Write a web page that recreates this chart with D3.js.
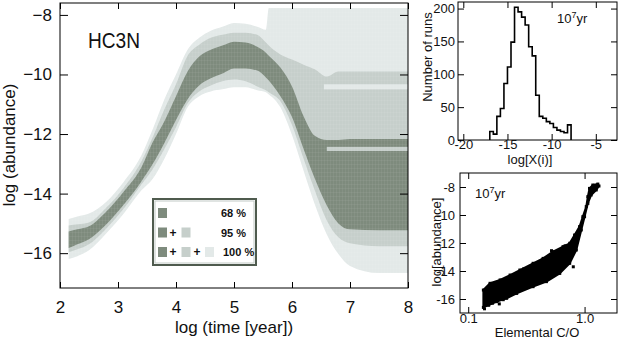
<!DOCTYPE html>
<html>
<head>
<meta charset="utf-8">
<script src="https://cdn.jsdelivr.net/npm/d3@7"></script>
<style>
body { margin: 0; background: #fff; }
svg { display: block; }
text { font-family: 'Liberation Sans', Arial, sans-serif; fill: #111; }
</style>
</head>
<body>
<svg id="fig" width="618" height="339"></svg>
<script>
// values (log time in years, log abundance)
const times = [2.15, 2.3, 2.5, 2.8, 3.1, 3.4, 3.6, 3.8, 4.0, 4.2, 4.4, 4.6, 4.8, 5.0, 5.2, 5.4, 5.55, 5.6, 5.8, 6.0, 6.2, 6.4, 6.6, 6.8, 7.0, 7.5, 8.0]

const hi100 = [-14.85, -14.77, -14.67, -14.27, -13.6, -12.73, -11.83, -10.83, -10.0, -9.17, -8.77, -8.53, -8.4, -8.27, -8.3, -8.4, -8.5, -7.77, -7.77, -7.77, -7.77, -7.77, -7.77, -7.77, -7.77, -7.77, -7.77]
const lo100 = [-16.2, -16.1, -15.9, -15.33, -14.67, -13.9, -13.5, -12.83, -12.0, -11.1, -10.73, -10.57, -10.5, -10.43, -10.43, -10.53, -10.6, -10.67, -11.1, -12.03, -13.23, -14.4, -15.37, -16.03, -16.43, -16.67, -16.67]

const hi95 = [-15.07, -15.03, -14.97, -14.47, -13.8, -12.93, -12.1, -11.17, -10.33, -9.37, -9.0, -8.77, -8.67, -8.6, -8.6, -8.67, -8.93, -9.03, -9.33, -9.5, -9.67, -9.83, -10.07, -9.9, -9.9, -9.9, -9.9]
const lo95 = [-15.97, -15.87, -15.7, -15.17, -14.5, -13.7, -13.17, -12.5, -11.77, -10.97, -10.57, -10.37, -10.23, -10.17, -10.23, -10.4, -10.53, -10.6, -10.9, -11.7, -12.83, -13.93, -14.9, -15.47, -15.67, -15.77, -15.77]

const hi68 = [-15.27, -15.2, -15.1, -14.6, -13.93, -13.13, -12.27, -11.57, -10.73, -9.9, -9.4, -9.17, -9.03, -8.9, -8.93, -9.07, -9.27, -9.37, -9.77, -10.4, -11.4, -12.07, -12.2, -12.2, -12.17, -12.17, -12.17]
const lo68 = [-15.83, -15.7, -15.53, -15.03, -14.37, -13.6, -13.0, -12.3, -11.53, -10.83, -10.37, -10.13, -9.97, -9.8, -9.8, -9.87, -10.1, -10.2, -10.73, -11.43, -12.5, -13.53, -14.4, -15.0, -15.2, -15.23, -15.23]

// thin strips of a lighter level cutting through the late-time bands
const stripFrom = [6.55, 6.6]
const stripTo = [8.0, 8.0]
const stripTop = [-10.33, -12.43]
const stripBottom = [-10.5, -12.57]
const stripLevel = ['100', '95']

const legendLabels = ['68 %', '95 %', '100 %']

// histogram of log abundance at 1e7 yr
const histEdges = [-17.0, -16.6, -16.2, -15.8, -15.4, -15.0, -14.6, -14.2, -13.8, -13.4, -13.0, -12.6, -12.2, -11.8, -11.4, -11.0, -10.6, -10.2, -9.8, -9.4, -9.0, -8.6, -8.2, -7.8]
const histCounts = [13, 9, 36, 48, 86, 111, 149, 202, 195, 187, 175, 142, 128, 68, 36, 33, 28, 25, 19, 15, 13, 11, 23]

// scatter cloud outline: elemental C/O vs log abundance
const cloudUpper = [[0.135, -15.36], [0.154, -14.88], [0.188, -14.64], [0.229, -14.29], [0.278, -13.93], [0.361, -13.45], [0.44, -13.1], [0.536, -12.62], [0.653, -12.26], [0.745, -12.02], [0.821, -11.43], [0.906, -10.83], [0.967, -10.12], [1.034, -9.4], [1.067, -8.69], [1.103, -8.1], [1.178, -7.86], [1.3, -7.79]]
const cloudLower = [[0.135, -16.6], [0.176, -16.19], [0.214, -15.95], [0.261, -15.6], [0.361, -15.12], [0.47, -14.76], [0.612, -14.17], [0.745, -13.45], [0.849, -12.5], [0.937, -11.07], [1.0, -10.12], [1.067, -9.17], [1.14, -8.57], [1.26, -8.21], [1.33, -7.93]]
const cloudStray = [[0.138, -16.7], [0.15, -16.45], [0.145, -15.95], [0.162, -16.3], [0.185, -16.35], [0.14, -15.6], [0.2, -16.05], [0.3, -13.85], [0.52, -12.55], [0.68, -12.2], [0.8, -13.7], [1.2, -7.9]]

const colors = { '100': '#e3e9e8', '95': '#c6cfcb', '68': '#7e8b7d' }

const svg = d3.select('#fig')

// draws the frame plus inward ticks on all four sides
function drawFrame(g, xs, ys, o) {
    let [x0, x1] = xs.range()
    let [y0, y1] = ys.range()
    g.append('rect')
        .attr('x', x0).attr('y', y1)
        .attr('width', x1 - x0).attr('height', y0 - y1)
        .attr('fill', 'none').attr('stroke', '#000').attr('stroke-width', 1)

    let sides = [
        [d3.axisBottom(xs), `translate(0,${y0})`, o.xMajor, o.xMinor, o.xLen],
        [d3.axisTop(xs), `translate(0,${y1})`, o.xMajor, o.xMinor, o.xLen],
        [d3.axisLeft(ys), `translate(${x0},0)`, o.yMajor, o.yMinor, o.yLen],
        [d3.axisRight(ys), `translate(${x1},0)`, o.yMajor, o.yMinor, o.yLen],
    ]
    sides.forEach(function ([ax, tr, major, minor, len]) {
        let a = g.append('g').attr('transform', tr)
        a.call(ax.tickValues(minor).tickSize(-len / 2).tickFormat(''))
        a.call(ax.tickValues(major).tickSize(-len).tickFormat(''))
        a.select('.domain').remove()
        a.selectAll('line').attr('stroke', '#000')
    })
    // labels on bottom and left only
    let bx = g.append('g').attr('transform', `translate(0,${y0})`)
        .call(d3.axisBottom(xs).tickValues(o.xMajor).tickSize(0).tickPadding(o.xPad).tickFormat(o.xFmt))
    let ly = g.append('g').attr('transform', `translate(${x0},0)`)
        .call(d3.axisLeft(ys).tickValues(o.yMajor).tickSize(0).tickPadding(o.yPad).tickFormat(o.yFmt))
    ;[bx, ly].forEach(function (a) {
        a.select('.domain').remove()
        a.selectAll('text')
            .style('font-family', o.font)
            .style('font-size', o.size + 'px')
            .attr('fill', '#111')
    })
}

// ---------- main panel ----------
const x = d3.scaleLinear().domain([2, 8]).range([60, 408])
const y = d3.scaleLinear().domain([-17.17, -7.6]).range([288, 3])
const main = svg.append('g')

const bandData = [
    { level: '100', hi: hi100, lo: lo100 },
    { level: '95', hi: hi95, lo: lo95 },
    { level: '68', hi: hi68, lo: lo68 },
]
const area = d3.area()
    .x(d => x(d.t))
    .y0(d => y(d.lo))
    .y1(d => y(d.hi))
    .curve(d3.curveMonotoneX)

main.selectAll('path.band')
    .data(bandData)
    .join('path')
    .attr('class', 'band')
    .attr('d', b => area(times.map((t, i) => ({ t: t, hi: b.hi[i], lo: b.lo[i] }))))
    .attr('fill', b => colors[b.level])

main.selectAll('rect.strip')
    .data(stripFrom.map((t, i) => ({ t0: t, t1: stripTo[i], top: stripTop[i], bottom: stripBottom[i], level: stripLevel[i] })))
    .join('rect')
    .attr('class', 'strip')
    .attr('x', d => x(d.t0))
    .attr('width', d => x(d.t1) - x(d.t0))
    .attr('y', d => y(d.top))
    .attr('height', d => y(d.bottom) - y(d.top))
    .attr('fill', d => colors[d.level])

// faint cell grid like the binned original
const defs = svg.append('defs')
defs.append('pattern').attr('id', 'cells')
    .attr('width', 3).attr('height', 4).attr('patternUnits', 'userSpaceOnUse')
    .append('path').attr('d', 'M0,0H3M0,0V4')
    .attr('stroke', '#fff').attr('stroke-opacity', 0.1).attr('stroke-width', 1)
main.append('path')
    .attr('d', area(times.map((t, i) => ({ t: t, hi: hi100[i], lo: lo100[i] }))))
    .attr('fill', 'url(#cells)')

drawFrame(main, x, y, {
    xMajor: d3.range(2, 9), xMinor: d3.range(2, 8.001, 0.1), xLen: 6,
    yMajor: [-16, -14, -12, -10, -8], yMinor: d3.range(-17, -7.9, 0.5), yLen: 8,
    xPad: 13, yPad: 8, font: "'Liberation Sans', Arial, sans-serif", size: 17,
    xFmt: d3.format('d'), yFmt: d => '\u2212' + Math.abs(d),
})

main.append('text').attr('x', 88).attr('y', 48)
    .attr('textLength', 52).attr('lengthAdjust', 'spacingAndGlyphs')
    .style('font-size', '22px').text('HC3N')

main.append('text').attr('x', 234).attr('y', 333).attr('text-anchor', 'middle')
    .style('font-size', '17px').attr('fill', '#222').text('log (time [year])')
main.append('text').attr('transform', 'translate(15,145) rotate(-90)').attr('text-anchor', 'middle')
    .style('font-size', '17px').attr('fill', '#222').text('log (abundance)')

// legend
const lg = main.append('g').attr('transform', 'translate(153,199)')
lg.append('rect').attr('width', 103).attr('height', 66)
    .attr('fill', '#fff').attr('stroke', '#4f5b4e').attr('stroke-width', 2)
lg.append('rect').attr('x', 2).attr('y', 2).attr('width', 99).attr('height', 62)
    .attr('fill', 'none').attr('stroke', '#c2cac5').attr('stroke-width', 1)
const levels = ['68', '95', '100']
legendLabels.forEach(function (lab, r) {
    let cy = 14 + r * 19.5
    let row = lg.append('g').attr('transform', `translate(0,${cy})`)
    levels.slice(0, r + 1).forEach(function (lv, k) {
        row.append('rect').attr('x', 5 + k * 23.5).attr('y', -5).attr('width', 9).attr('height', 10)
            .attr('fill', colors[lv])
        if (k > 0) {
            row.append('text').attr('x', 20 + (k - 1) * 24).attr('y', 4).attr('text-anchor', 'middle')
                .style('font-size', '12px').style('font-weight', 'bold').text('+')
        }
    })
    row.append('text').attr('x', r == 2 ? 70 : 68).attr('y', 4)
        .style('font-size', '11px').style('font-weight', 'bold').text(lab)
})

// ---------- histogram ----------
const hx = d3.scaleLinear().domain([-20.6, -2.6]).range([458, 617])
const hy = d3.scaleLinear().domain([0, 210]).range([140, 2])
const hist = svg.append('g')
const steps = []
histCounts.forEach(function (c, i) {
    steps.push([histEdges[i], c])
    steps.push([histEdges[i + 1], c])
})
hist.append('path')
    .attr('d', d3.line().x(d => hx(d[0])).y(d => hy(d[1]))([[histEdges[0], 0], ...steps, [histEdges[histEdges.length - 1], 0]]))
    .attr('fill', 'none').attr('stroke', '#000').attr('stroke-width', 1.6)

drawFrame(hist, hx, hy, {
    xMajor: [-20, -15, -10, -5], xMinor: d3.range(-20, -2.9, 1), xLen: 6,
    yMajor: [0, 50, 100, 150, 200], yMinor: d3.range(0, 201, 10), yLen: 6,
    xPad: 0, yPad: 3, font: "'Liberation Sans', Arial, sans-serif", size: 13,
    xFmt: d => String(d), yFmt: d => String(d),
})
hist.append('text').attr('x', 530).attr('y', 164).attr('text-anchor', 'middle')
    .style('font-size', '13px').text('log[X(i)]')
hist.append('text').attr('transform', 'translate(432,57) rotate(-90)').attr('text-anchor', 'middle')
    .style('font-size', '13px').text('Number of runs')
const ht = hist.append('text').attr('x', 557).attr('y', 23).style('font-size', '13px')
ht.append('tspan').text('10')
ht.append('tspan').attr('dy', -5).style('font-size', '9px').text('7')
ht.append('tspan').attr('dy', 5).text('yr')

// ---------- scatter ----------
const sx = d3.scaleLog().domain([0.085, 1.9]).range([460, 617])
const sy = d3.scaleLinear().domain([-17, -7]).range([313, 173])
const sc = svg.append('g')
const outline = cloudUpper.concat(cloudLower.slice().reverse())
sc.append('path')
    .attr('d', d3.line().x(d => sx(d[0])).y(d => sy(d[1])).curve(d3.curveLinearClosed)(outline))
    .attr('fill', '#000').attr('stroke', '#000').attr('stroke-width', 2).attr('stroke-linejoin', 'round')
sc.selectAll('rect.pt')
    .data(cloudUpper.concat(cloudLower, cloudStray))
    .join('rect')
    .attr('class', 'pt')
    .attr('x', d => sx(d[0]) - 1.5).attr('y', d => sy(d[1]) - 1.5)
    .attr('width', 3).attr('height', 3).attr('fill', '#000')

drawFrame(sc, sx, sy, {
    xMajor: [0.1, 1.0], xMinor: [0.09, 0.2, 0.3, 0.4, 0.5, 0.6, 0.7, 0.8, 0.9], xLen: 6,
    yMajor: [-16, -14, -12, -10, -8], yMinor: d3.range(-17, -6.9, 0.5), yLen: 6,
    xPad: 1, yPad: 5, font: "'Liberation Sans', Arial, sans-serif", size: 13,
    xFmt: d3.format('.1f'), yFmt: d => String(d),
})
sc.append('text').attr('x', 537).attr('y', 337).attr('text-anchor', 'middle')
    .style('font-size', '13px').text('Elemental C/O')
sc.append('text').attr('transform', 'translate(441,242) rotate(-90)').attr('text-anchor', 'middle')
    .style('font-size', '13px').text('log[abundance]')
const st = sc.append('text').attr('x', 475).attr('y', 198).style('font-size', '13px')
st.append('tspan').text('10')
st.append('tspan').attr('dy', -5).style('font-size', '9px').text('7')
st.append('tspan').attr('dy', 5).text('yr')
</script>
</body>
</html>
